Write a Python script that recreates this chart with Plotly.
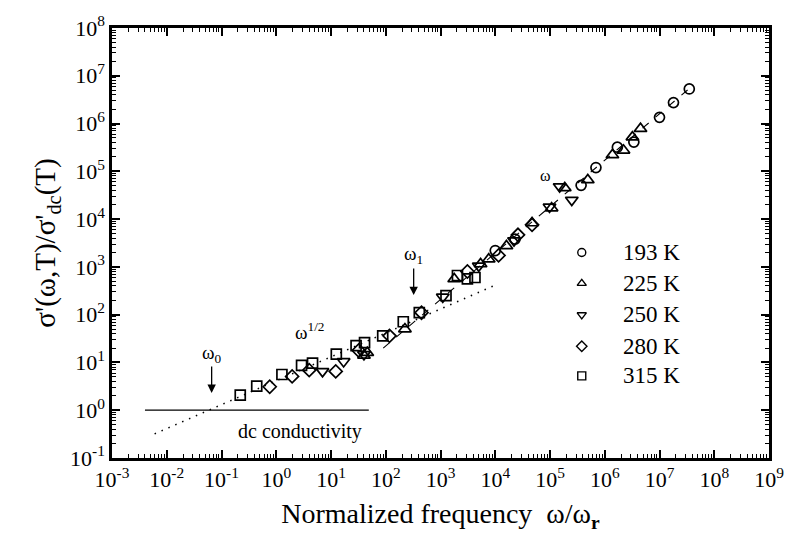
import plotly.graph_objects as go

# ---- data ----
x193 = [1.0e4, 2.3e4, 3.7e5, 6.9e5, 1.7e6, 3.4e6, 1.0e7, 1.8e7, 3.5e7]
y193 = [2200, 3800, 5.1e4, 1.2e5, 3.2e5, 4.1e5, 1.35e6, 2.75e6, 5.3e6]

x225 = [40, 46, 224, 1780, 5400, 7600, 1.6e4, 4.7e4, 1.07e5, 1.86e5, 4.9e5, 1.38e6, 2.2e6, 3.2e6, 4.5e6]
y225 = [14, 16, 50, 560, 1150, 1450, 2750, 8300, 1.7e4, 4.5e4, 6.6e4, 2.2e5, 2.75e5, 5.2e5, 7.8e5]

x250 = [7.0, 17, 40, 1100, 5000, 2.2e4, 9.8e4, 1.5e5, 2.5e5]
y250 = [6.5, 10.5, 14.7, 235, 1050, 3550, 1.8e4, 4.8e4, 2.5e4]

x280 = [0.76, 1.95, 4.0, 12.2, 32, 117, 450, 3100, 1.15e4, 2.6e4, 4.7e4]
y280 = [3.1, 5.1, 6.9, 6.5, 17.8, 36, 110, 800, 1740, 4700, 7600]

x315 = [0.22, 0.44, 1.27, 2.9, 4.6, 12.5, 28.7, 41, 88, 209, 410, 1260, 2040, 3100, 4260]
y315 = [2.08, 3.2, 5.6, 8.7, 9.7, 14.9, 22.6, 26, 36, 71, 110, 250, 660, 560, 600]

series_names = ["193 K", "225 K", "250 K", "280 K", "315 K"]

dotted_x = [0.006, 1.07e4]
dotted_y = [0.32, 430]
dashed_x = [90, 3.5e7]
dashed_y = [20, 5.4e6]
dc_x = [0.004, 49]
dc_y = [1, 1]

xtick_exp = list(range(-3, 10))
ytick_exp = list(range(-1, 9))

# ---- figure ----
FONT = "Liberation Serif"
series = [(x193, y193, "circle-open", 10), (x225, y225, "triangle-up-open", 11),
          (x250, y250, "triangle-down-open", 11), (x280, y280, "diamond-open", 10),
          (x315, y315, "square-open", 10)]

fig = go.Figure()
fig.add_trace(go.Scatter(x=dc_x, y=dc_y, mode="lines", line=dict(color="black", width=1.2), showlegend=False))
fig.add_trace(go.Scatter(x=dotted_x, y=dotted_y, mode="lines",
                         line=dict(color="black", width=1.5, dash="1.5px,6px"), showlegend=False))
fig.add_trace(go.Scatter(x=dashed_x, y=dashed_y, mode="lines",
                         line=dict(color="black", width=1.1, dash="8px,9px"), showlegend=False))
for (xs, ys, sym, sz), nm in zip(series, series_names):
    fig.add_trace(go.Scatter(x=xs, y=ys, mode="markers", name=nm, showlegend=False,
                             marker=dict(symbol=sym, size=sz, color="black",
                                         line=dict(color="black", width=1.7))))

# manual legend on an overlay axis in [0,1]
leg_y = [0.478, 0.406, 0.333, 0.260, 0.191]
for (xs, ys, sym, sz), nm, ly in zip(series, series_names, leg_y):
    fig.add_trace(go.Scatter(x=[0.715], y=[ly], xaxis="x2", yaxis="y2", mode="markers",
                             showlegend=False, hoverinfo="skip",
                             marker=dict(symbol=sym, size=8, color="black",
                                         line=dict(color="black", width=1.4))))

annotations = []
for nm, ly in zip(series_names, leg_y):
    annotations.append(dict(xref="paper", yref="paper", x=0.775, y=ly, text=nm, showarrow=False,
                            xanchor="left", yanchor="middle", font=dict(family=FONT, size=23, color="black")))

afont = dict(family=FONT, size=19, color="black")
# arrows
annotations.append(dict(x=-1.18, y=0.36, xref="x", yref="y", ax=0, ay=-28, text="", showarrow=True,
                        arrowhead=2, arrowsize=1.3, arrowwidth=1.3, arrowcolor="black"))
annotations.append(dict(x=-1.18, y=1.17, xref="x", yref="y", text="ω<sub>0</sub>", showarrow=False, font=afont))
annotations.append(dict(x=2.51, y=2.41, xref="x", yref="y", ax=0, ay=-28, text="", showarrow=True,
                        arrowhead=2, arrowsize=1.3, arrowwidth=1.3, arrowcolor="black"))
annotations.append(dict(x=2.51, y=3.24, xref="x", yref="y", text="ω<sub>1</sub>", showarrow=False, font=afont))
annotations.append(dict(x=0.61, y=1.66, xref="x", yref="y", text="ω<sup>1/2</sup>", showarrow=False, font=afont))
annotations.append(dict(x=4.91, y=4.92, xref="x", yref="y", text="ω", showarrow=False,
                        font=dict(family=FONT, size=16, color="black")))
annotations.append(dict(x=0.43, y=-0.45, xref="x", yref="y", text="dc conductivity", showarrow=False,
                        font=dict(family=FONT, size=20, color="black")))

axis_common = dict(type="log", showline=True, linewidth=2.5, linecolor="black", mirror="ticks",
                   ticks="inside", ticklen=8, tickwidth=1.8, tickcolor="black",
                   showgrid=False, zeroline=False,
                   tickfont=dict(family=FONT, size=22, color="black"),
                   minor=dict(ticks="inside", ticklen=4, tickwidth=1.2, tickcolor="black",
                              dtick="D1", showgrid=False))

fig.update_layout(
    width=796, height=539,
    margin=dict(l=112, r=19, t=23, b=81),
    paper_bgcolor="white", plot_bgcolor="white",
    showlegend=False,
    xaxis=dict(**axis_common, range=[-3, 9],
               tickvals=[10 ** e for e in xtick_exp],
               ticktext=[f"10<sup>{e}</sup>" for e in xtick_exp],
               title=dict(text="Normalized frequency  ω/ω<sub><b>r</b></sub>",
                          font=dict(family=FONT, size=28, color="black"), standoff=13)),
    yaxis=dict(**axis_common, range=[-1, 8],
               tickvals=[10 ** e for e in ytick_exp],
               ticktext=[f"10<sup>{e}</sup>" for e in ytick_exp],
               title=dict(text="σ'(ω,T)/σ'<sub>dc</sub>(T)",
                          font=dict(family=FONT, size=29, color="black"), standoff=6)),
    xaxis2=dict(overlaying="x", range=[0, 1], visible=False, fixedrange=True),
    yaxis2=dict(overlaying="y", range=[0, 1], visible=False, fixedrange=True),
    annotations=annotations,
)

fig.write_html("out.html")
